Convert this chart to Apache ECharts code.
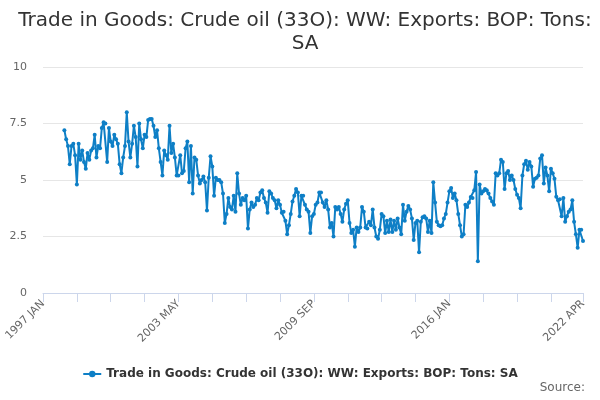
<!DOCTYPE html>
<html>
<head>
  <meta charset="utf-8">
  <script src="https://cdn.jsdelivr.net/npm/echarts@6.0.0/dist/echarts.min.js"></script>
  <style>
    body { margin: 0; background: #fff; }
    #chart { width: 600px; height: 400px; }
  </style>
</head>
<body>
  <div id="chart"></div>
  <script>
    // month names used to build the category axis, 1997 JAN .. 2022 APR
    var monthNames = ['JAN', 'FEB', 'MAR', 'APR', 'MAY', 'JUN', 'JUL', 'AUG', 'SEP', 'OCT', 'NOV', 'DEC'];
    var firstYear = 1997;
    var lastYear = 2022;
    var lastMonth = 3; // APR
    var seriesStart = 12; // first observation is 1998 JAN

    var categories = [];
    for (var y = firstYear; y <= lastYear; y++) {
      for (var m = 0; m < 12; m++) {
        if (y === lastYear && m > lastMonth) break;
        categories.push(y + ' ' + monthNames[m]);
      }
    }

    // axis label positions and tick spacing
    var labelIndexes = [0, 76, 152, 228, 303];
    var tickStep = 19;
    var yTicks = [0, 2.5, 5, 7.5, 10];

    var seriesName = 'Trade in Goods: Crude oil (33O): WW: Exports: BOP: Tons: SA';

    // monthly values, 1998 JAN .. 2022 APR
    var values = [
      // 1998
      7.2, 6.8, 6.5, 5.7, 6.5, 6.6, 6.1, 4.8, 6.6, 5.9, 6.3, 5.8,
      // 1999
      5.5, 6.2, 5.9, 6.3, 6.4, 7.0, 6.0, 6.5, 6.4, 7.3, 7.55, 7.5,
      // 2000
      5.8, 7.3, 6.7, 6.5, 7.0, 6.8, 6.6, 5.7, 5.3, 6.0, 6.5, 8.0,
      // 2001
      6.7, 6.0, 6.6, 7.4, 6.9, 5.6, 7.5, 6.8, 6.4, 7.0, 6.9, 7.65,
      // 2002
      7.7, 7.7, 7.4, 6.9, 7.2, 6.4, 5.8, 5.2, 6.3, 6.1, 5.9, 7.4,
      // 2003
      6.2, 6.6, 6.0, 5.2, 5.2, 6.1, 5.3, 5.4, 6.4, 6.7, 4.9, 6.5,
      // 2004
      4.4, 6.0, 5.9, 5.2, 4.85, 5.0, 5.15, 4.9, 3.65, 5.1, 6.05, 5.6,
      // 2005
      4.3, 5.1, 5.0, 5.0, 4.9, 4.4, 3.1, 3.5, 4.2, 3.8, 3.7, 4.3,
      // 2006
      3.6, 5.3, 4.4, 3.9, 4.2, 4.1, 4.3, 2.85, 3.7, 4.0, 3.8, 3.9,
      // 2007
      4.2, 4.1, 4.45, 4.55, 4.2, 4.0, 3.55, 4.5, 4.4, 4.2, 4.1, 3.75,
      // 2008
      4.1, 3.9, 3.55, 3.6, 3.2, 2.6, 3.0, 3.5, 4.05, 4.3, 4.6, 4.45,
      // 2009
      3.4, 4.3, 4.3, 3.9, 3.7, 3.6, 2.65, 3.4, 3.5, 3.9, 4.0, 4.45,
      // 2010
      4.45, 4.0, 3.8, 4.1, 3.7, 2.9, 3.1, 2.5, 3.8, 3.7, 3.8, 3.5,
      // 2011
      3.15, 3.7, 3.95, 4.1, 3.1, 2.65, 2.8, 2.05, 2.9, 2.7, 2.9, 3.8,
      // 2012
      3.6, 2.9, 2.85, 3.15, 3.0, 3.7, 2.9, 2.5, 2.4, 2.8, 3.5, 3.4,
      // 2013
      2.65, 3.2, 2.7, 3.25, 2.7, 3.2, 2.8, 3.3, 2.9, 2.6, 3.9, 3.2,
      // 2014
      3.6, 3.85, 3.7, 3.3, 2.35, 3.1, 3.2, 1.8, 3.15, 3.35, 3.4, 3.3,
      // 2015
      2.7, 3.2, 2.65, 4.9, 4.0, 3.15, 3.0, 2.95, 3.0, 3.3, 3.5, 4.0,
      // 2016
      4.5, 4.65, 4.2, 4.4, 4.1, 3.5, 3.0, 2.5, 2.6, 3.9, 3.8, 4.0,
      // 2017
      4.25, 4.2, 4.55, 5.35, 1.4, 4.8, 4.4, 4.5, 4.6, 4.55, 4.4, 4.2,
      // 2018
      4.05, 3.9, 5.3, 5.2, 5.3, 5.9, 5.8, 4.6, 5.3, 5.4, 5.0, 5.2,
      // 2019
      5.0, 4.6, 4.35, 4.2, 3.75, 5.2, 5.7, 5.85, 5.45, 5.8, 5.6, 4.7,
      // 2020
      5.05, 5.1, 5.2, 5.95, 6.1, 4.85, 5.55, 5.2, 4.5, 5.5, 5.3, 5.05,
      // 2021
      4.26, 4.1, 4.15, 3.4, 4.2, 3.15, 3.4, 3.6, 3.7, 4.1, 3.15, 2.6,
      // 2022
      2.0, 2.8, 2.8, 2.3
    ];

    var chart = echarts.init(document.getElementById('chart'));

    var seriesData = values.map(function(v, i) {
      return [categories[seriesStart + i], v];
    });

    var option = {
      animation: false,
      textStyle: { fontFamily: 'DejaVu Sans' },
      title: [
        {
          text: 'Trade in Goods: Crude oil (33O): WW: Exports: BOP: Tons:\nSA',
          left: 300,
          top: 4,
          textAlign: 'center',
          textStyle: {
            fontFamily: 'DejaVu Sans',
            fontSize: 20,
            fontWeight: 'normal',
            color: '#333333',
            lineHeight: 23,
            align: 'center'
          }
        },
        {
          text: 'Source:',
          right: 10,
          bottom: 1,
          textStyle: {
            fontFamily: 'DejaVu Sans',
            fontSize: 12,
            fontWeight: 'normal',
            color: '#666666'
          }
        }
      ],
      legend: {
        bottom: 15,
        left: 'center',
        itemWidth: 18,
        itemHeight: 8,
        itemGap: 4,
        textStyle: {
          fontFamily: 'DejaVu Sans',
          fontSize: 12,
          fontWeight: 'bold',
          color: '#333333'
        },
        data: [seriesName]
      },
      grid: {
        left: 43,
        right: 17,
        top: 67,
        bottom: 107
      },
      xAxis: {
        type: 'category',
        data: categories,
        boundaryGap: false,
        axisLine: { lineStyle: { color: '#ccd6eb' } },
        axisTick: {
          length: 9,
          lineStyle: { color: '#ccd6eb' },
          interval: function(i) { return i % tickStep === 0 || i === categories.length - 1; }
        },
        axisLabel: {
          rotate: 45,
          color: '#666666',
          fontSize: 11,
          margin: 9,
          interval: function(i) { return labelIndexes.indexOf(i) !== -1; }
        },
        splitLine: { show: false }
      },
      yAxis: {
        type: 'value',
        min: yTicks[0],
        max: yTicks[yTicks.length - 1],
        interval: 2.5,
        axisLine: { show: false },
        axisTick: { show: false },
        axisLabel: {
          color: '#666666',
          fontSize: 11,
          margin: 16
        },
        splitLine: { lineStyle: { color: '#e6e6e6' } }
      },
      series: [
        {
          name: seriesName,
          type: 'line',
          data: seriesData,
          color: '#0e7fc6',
          symbol: 'circle',
          symbolSize: 4,
          showSymbol: true,
          showAllSymbol: true,
          lineStyle: { width: 2 }
        }
      ]
    };

    chart.setOption(option);
  </script>
</body>
</html>
